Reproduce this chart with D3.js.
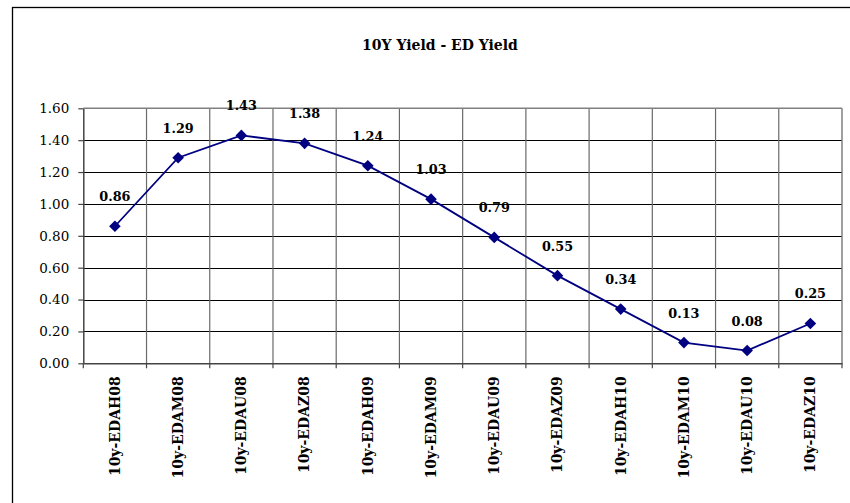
<!DOCTYPE html>
<html><head><meta charset="utf-8">
<script src="https://cdn.jsdelivr.net/npm/d3@7"></script>
<style>body{margin:0;background:#fff}svg{display:block}</style>
</head><body>
<script>
const title = "10Y Yield - ED Yield";
const categories = ["10y-EDAH08","10y-EDAM08","10y-EDAU08","10y-EDAZ08","10y-EDAH09","10y-EDAM09","10y-EDAU09","10y-EDAZ09","10y-EDAH10","10y-EDAM10","10y-EDAU10","10y-EDAZ10"];
const values = [0.86,1.29,1.43,1.38,1.24,1.03,0.79,0.55,0.34,0.13,0.08,0.25];
const yTicks = [0,0.2,0.4,0.6,0.8,1.0,1.2,1.4,1.6];

const W=850,H=503;
const svg=d3.select("body").append("svg").attr("width",W).attr("height",H);
const font="'DejaVu Serif', 'Liberation Serif', serif";
const L=83.3,R=842,T=108.3,B=363.3;
const x=d3.scaleBand().domain(categories).range([L,R]);
const y=d3.scaleLinear().domain([0,1.6]).range([B,T]);

// outer border
svg.append("rect").attr("x",12.5).attr("y",7.5).attr("width",900).attr("height",600)
  .attr("fill","#fff").attr("stroke","#000").attr("stroke-width",1.3);

svg.append("text").attr("x",440).attr("y",50).attr("text-anchor","middle")
  .attr("font-family",font).attr("font-weight","bold").attr("font-size",14).text(title);

const g=svg.append("g");
// horizontal gridlines
g.selectAll("line.h").data(yTicks.slice(1,-1)).join("line")
  .attr("x1",L).attr("x2",R).attr("y1",d=>Math.round(y(d))+0.5).attr("y2",d=>Math.round(y(d))+0.5)
  .attr("stroke","#000").attr("stroke-width",1);
// vertical gridlines
g.selectAll("line.v").data(categories.slice(1)).join("line")
  .attr("x1",d=>x(d)).attr("x2",d=>x(d)).attr("y1",T).attr("y2",B)
  .attr("stroke","#6a6a6a").attr("stroke-width",1.2);
// plot border top/right
g.append("line").attr("x1",L).attr("x2",R).attr("y1",T).attr("y2",T).attr("stroke","#808080").attr("stroke-width",1.5);
g.append("line").attr("x1",R).attr("x2",R).attr("y1",T).attr("y2",B).attr("stroke","#808080").attr("stroke-width",1.5);

// y axis
const ya=svg.append("g").attr("transform",`translate(${L},0)`)
  .call(d3.axisLeft(y).tickValues(yTicks).tickFormat(d3.format(".2f")).tickSize(5).tickSizeOuter(0));
ya.select(".domain").attr("stroke","#444").attr("stroke-width",1.5);
ya.selectAll(".tick line").attr("stroke","#444").attr("stroke-width",1.2);
ya.selectAll("text").attr("font-family",font).attr("font-size",13.5).attr("fill","#000").attr("dx","-6");

// x axis
const xa=svg.append("g").attr("transform",`translate(0,${B})`)
  .call(d3.axisBottom(x).tickSize(0).tickSizeOuter(0));
xa.select(".domain").attr("stroke","#444").attr("stroke-width",1.5);
xa.selectAll(".tick line").remove();
xa.selectAll(".tick text").attr("font-family",font).attr("font-size",14).attr("font-weight","bold").attr("fill","#000")
  .attr("transform","rotate(-90)").attr("text-anchor","end").attr("x",-13).attr("y",0).attr("dy","0.35em");
// x tick marks at boundaries
const bounds=categories.map(d=>x(d)).concat([R]);
svg.append("g").selectAll("line").data(bounds).join("line")
  .attr("x1",d=>d).attr("x2",d=>d).attr("y1",B).attr("y2",B+5).attr("stroke","#444").attr("stroke-width",1.2);

// line
const cx=d=>x(d)+x.bandwidth()/2;
const line=d3.line().x((d,i)=>cx(categories[i])).y(d=>y(d));
svg.append("path").datum(values).attr("d",line).attr("fill","none").attr("stroke","#000080").attr("stroke-width",1.8);
svg.append("g").selectAll("path").data(values).join("path")
  .attr("transform",(d,i)=>`translate(${cx(categories[i])},${y(d)})`)
  .attr("d","M0,-5.8L5.8,0L0,5.8L-5.8,0Z").attr("fill","#000080");
svg.append("g").selectAll("text").data(values).join("text")
  .attr("x",(d,i)=>cx(categories[i])).attr("y",d=>y(d)-25).attr("text-anchor","middle")
  .attr("font-family",font).attr("font-weight","bold").attr("font-size",12.8).text(d=>d.toFixed(2));
</script>
</body></html>
